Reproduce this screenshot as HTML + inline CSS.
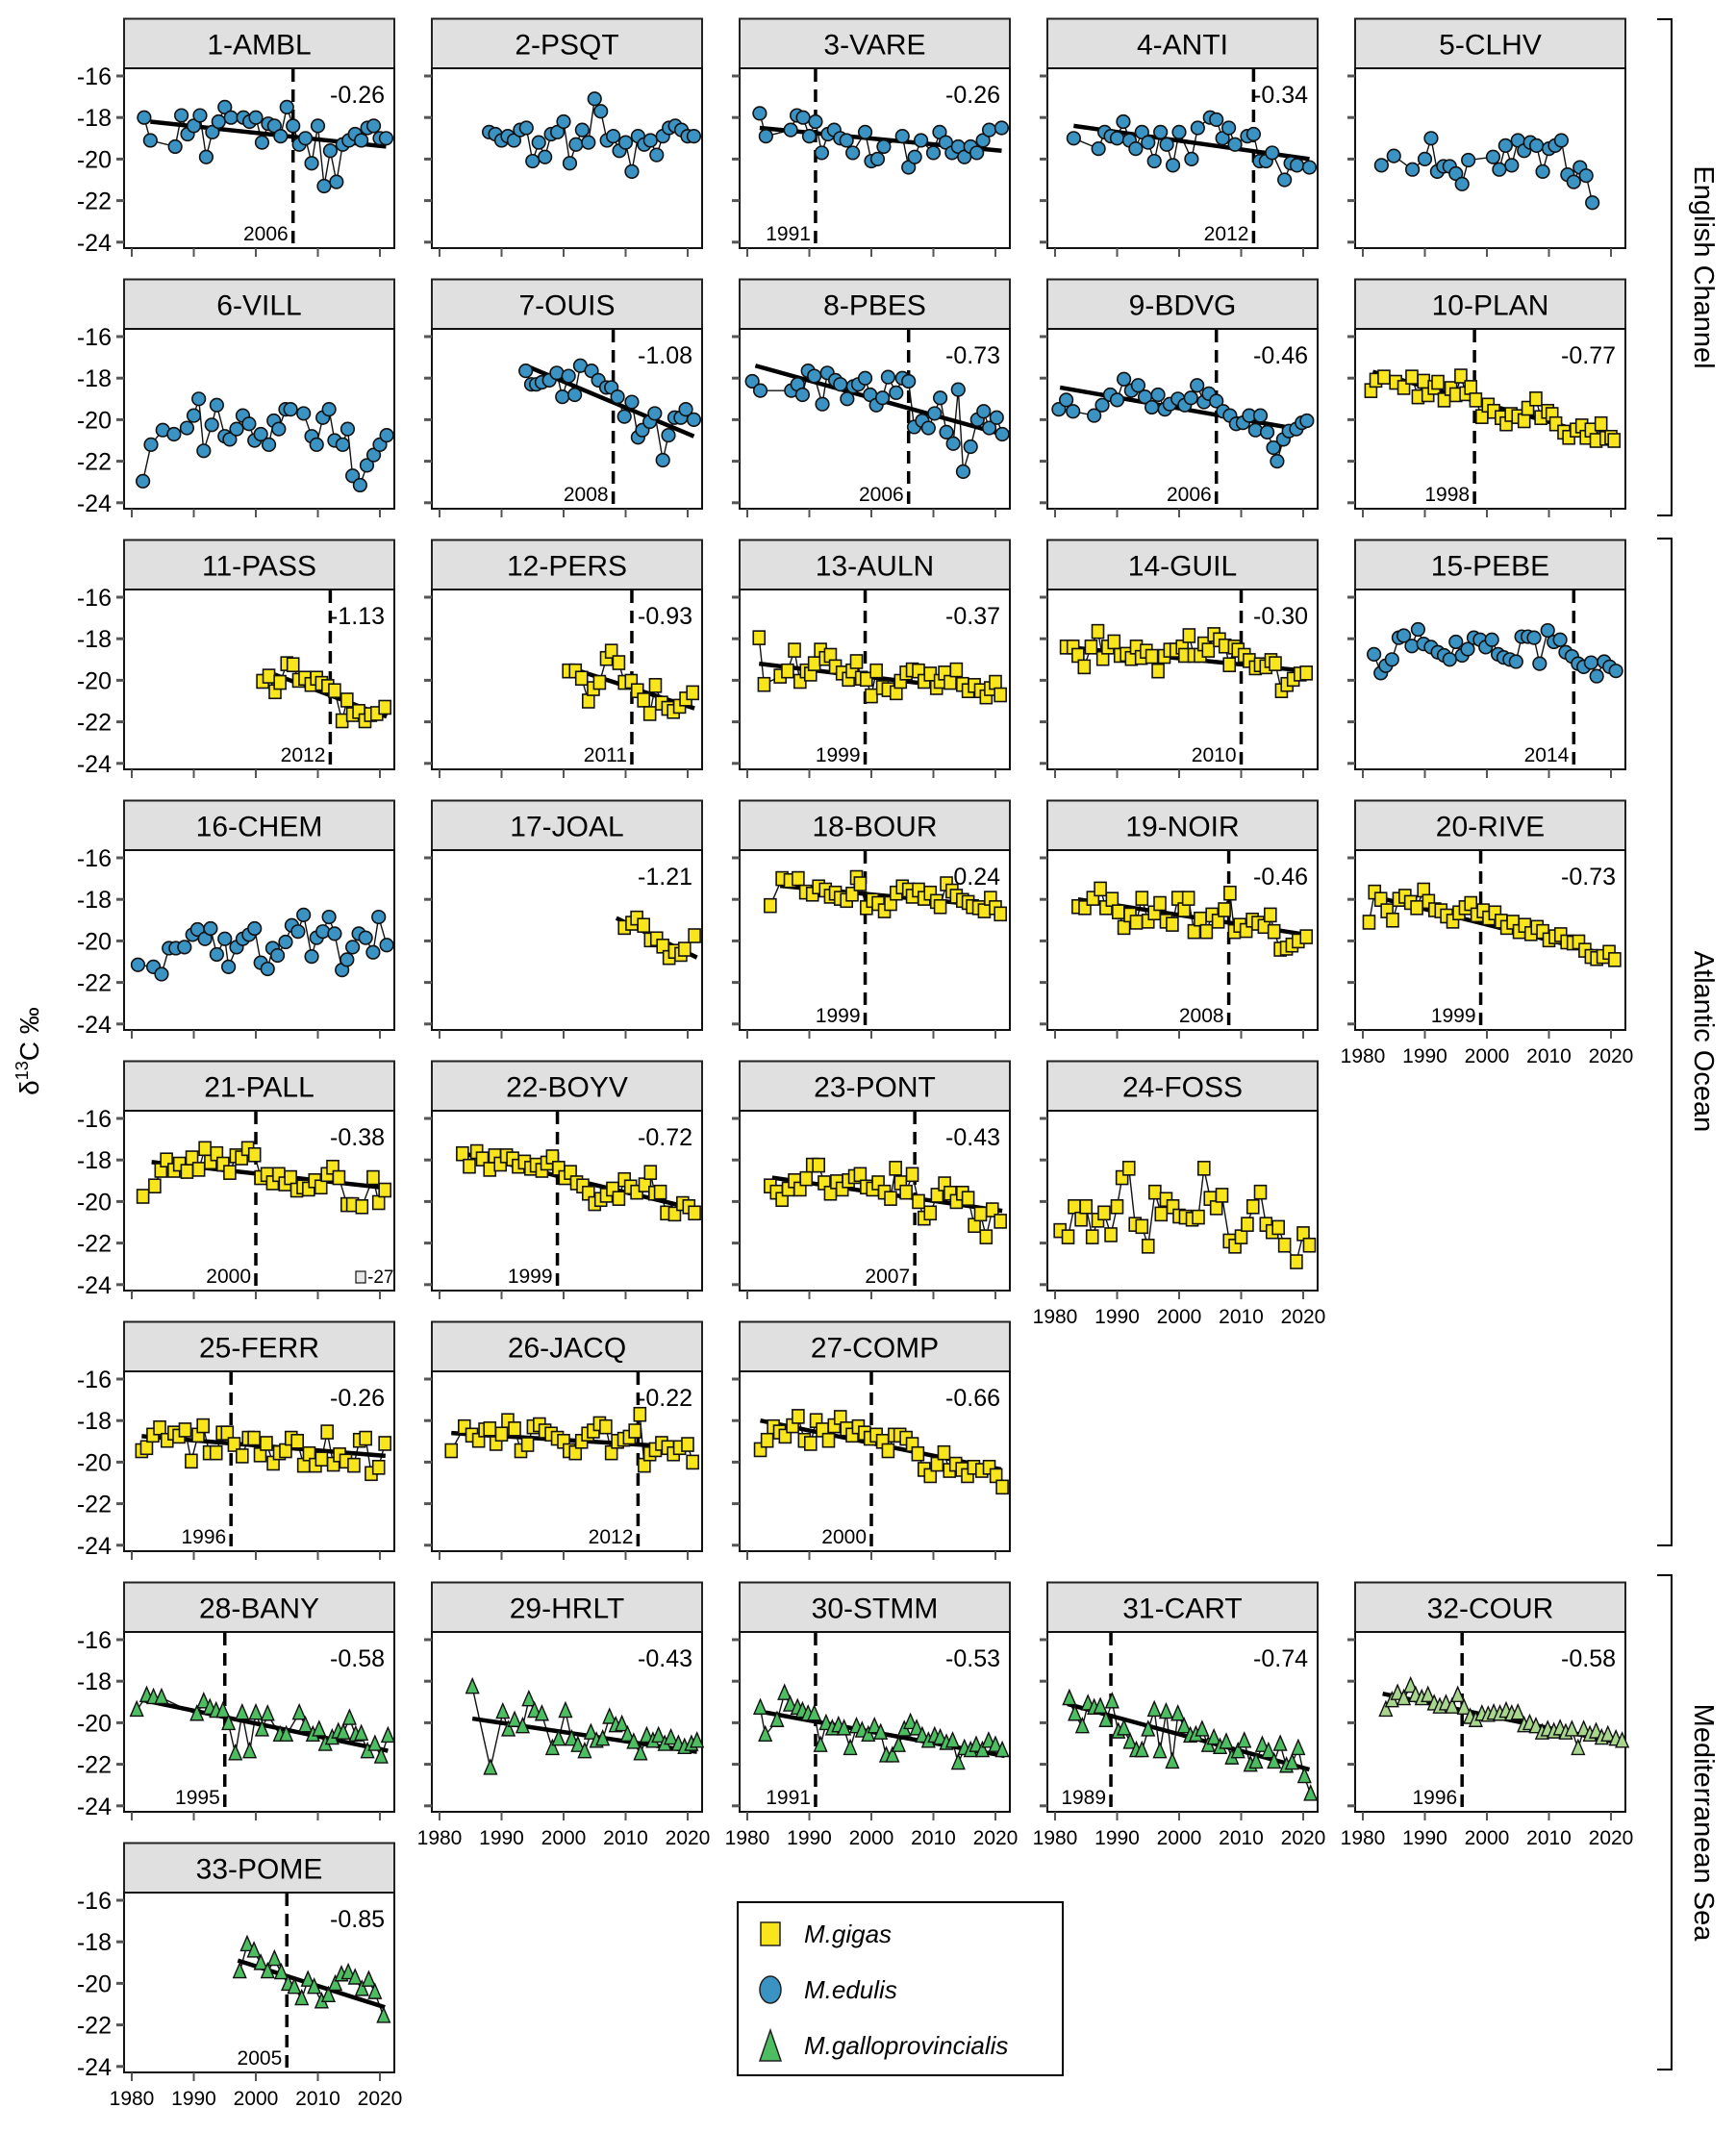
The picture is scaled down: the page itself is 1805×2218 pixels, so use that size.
<!DOCTYPE html>
<html><head><meta charset="utf-8">
<style>
html,body{margin:0;padding:0;background:#fff;}
svg{display:block;font-family:"Liberation Sans",Arial,sans-serif;}
</style></head>
<body>
<svg id="chart" width="1805" height="2218" viewBox="0 0 1805 2218" xmlns="http://www.w3.org/2000/svg">
<rect x="0" y="0" width="1805" height="2218" fill="#fff"/>
<g id="panels"></g>
<text transform="translate(40,1093) rotate(-90)" text-anchor="middle" font-size="28">δ<tspan font-size="18" dy="-11">13</tspan><tspan dy="11">C ‰</tspan></text>
<g>
<path d="M1723 20 H1738 V536 H1723" fill="none" stroke="#000" stroke-width="2"/>
<text transform="translate(1762,278) rotate(90)" text-anchor="middle" font-size="29">English Channel</text>
</g>
<g>
<path d="M1723 560 H1738 V1607 H1723" fill="none" stroke="#000" stroke-width="2"/>
<text transform="translate(1762,1083) rotate(90)" text-anchor="middle" font-size="29">Atlantic Ocean</text>
</g>
<g>
<path d="M1723 1638 H1738 V2152 H1723" fill="none" stroke="#000" stroke-width="2"/>
<text transform="translate(1762,1895) rotate(90)" text-anchor="middle" font-size="29">Mediterranean Sea</text>
</g>
<g>
<rect x="767" y="1978" width="338" height="180" fill="#fff" stroke="#000" stroke-width="2"/>
<g>
<rect x="791" y="1999" width="20" height="24" fill="#f8e51c" stroke="#222" stroke-width="1.5"/>
<text x="836" y="2020" font-size="26" font-style="italic">M.gigas</text></g>
<g>
<ellipse cx="801" cy="2069" rx="11" ry="14" fill="#3a93c3" stroke="#222" stroke-width="1.5"/>
<text x="836" y="2078" font-size="26" font-style="italic">M.edulis</text></g>
<g>
<path d="M801 2111 L812 2143 L790 2143 Z" fill="#4dbd61" stroke="#222" stroke-width="1.5"/>
<text x="836" y="2136" font-size="26" font-style="italic">M.galloprovincialis</text></g>
</g>
</svg>
<script>
const panelNames=["1-AMBL","2-PSQT","3-VARE","4-ANTI","5-CLHV","6-VILL","7-OUIS","8-PBES","9-BDVG","10-PLAN","11-PASS","12-PERS","13-AULN","14-GUIL","15-PEBE","16-CHEM","17-JOAL","18-BOUR","19-NOIR","20-RIVE","21-PALL","22-BOYV","23-PONT","24-FOSS","25-FERR","26-JACQ","27-COMP","28-BANY","29-HRLT","30-STMM","31-CART","32-COUR","33-POME"];
const panelSpecies=["e","e","e","e","e","e","e","e","e","g","g","g","g","g","e","e","g","g","g","g","g","g","g","g","g","g","g","p","p","p","p","q","p"];
const panelBreaks=[2006,null,1991,2012,null,null,2008,2006,2006,1998,2012,2011,1999,2010,2014,null,null,1999,2008,1999,2000,1999,2007,null,1996,2012,2000,1995,null,1991,1989,1996,2005];
const panelSlopes=["-0.26",null,"-0.26","-0.34",null,null,"-1.08","-0.73","-0.46","-0.77","-1.13","-0.93","-0.37","-0.30",null,null,"-1.21","-0.24","-0.46","-0.73","-0.38","-0.72","-0.43",null,"-0.26","-0.22","-0.66","-0.58","-0.43","-0.53","-0.74","-0.58","-0.85"];
const trendYears=[[1983,2021],null,[1982,2021],[1983,2021],null,null,[1993.9,2021],[1981.3,2021.1],[1980.8,2020],[1981.6,2020.5],[2001.5,2021.1],[2001.5,2021.1],[1981.9,2020.8],[1981.8,2020.5],null,null,[2008.5,2021.5],[1985.3,2020.8],[1983.7,2020.5],[1981,2020.6],[1983.2,2021.1],[1983.4,2021.1],[1984,2021.1],null,[1981.6,2020.9],[1981.9,2020],[1982.1,2020.9],[1981.6,2021.3],[1985.3,2021.5],[1981.9,2021.5],[1982,2021],[1983.2,2022],[1997.1,2020.8]];
const trendValues=[[-18.2,-19.4],null,[-18.5,-19.6],[-18.4,-20.0],null,null,[-17.4,-20.8],[-17.4,-20.7],[-18.45,-20.5],[-17.7,-21.0],[-19.55,-21.75],[-19.45,-21.35],[-19.2,-20.6],[-18.4,-19.55],null,null,[-18.9,-20.8],[-17.35,-18.35],[-18.0,-19.7],[-17.8,-20.75],[-18.1,-19.35],[-17.65,-20.35],[-18.85,-20.45],null,[-18.75,-19.7],[-18.6,-19.3],[-18.0,-20.35],[-18.9,-21.35],[-19.8,-21.4],[-19.45,-21.6],[-19.1,-22.25],[-18.6,-21.0],[-18.9,-21.15]];
const panelYears=[
[1982,1983,1987,1988,1989,1990,1991,1992,1993,1994,1995,1996,1998,1999,2000,2001,2002,2003,2004,2005,2006,2007,2008,2009,2010,2011,2012,2013,2014,2015,2016,2017,2018,2019,2020,2021],
[1988,1989,1990,1991,1992,1993,1994,1995,1996,1997,1998,1999,2000,2001,2002,2003,2004,2005,2006,2007,2008,2009,2010,2011,2012,2013,2014,2015,2016,2017,2018,2019,2020,2021],
[1982,1983,1987,1988,1989,1990,1991,1992,1993,1994,1995,1996,1997,1999,2000,2001,2002,2005,2006,2007,2008,2010,2011,2012,2013,2014,2015,2016,2017,2018,2019,2021],
[1983,1987,1988,1989,1990,1991,1992,1993,1994,1995,1996,1997,1998,1999,2000,2002,2003,2005,2006,2007,2008,2009,2011,2012,2013,2014,2015,2017,2018,2019,2021],
[1983,1985,1988,1990,1991,1992,1993,1994,1995,1996,1997,2001,2002,2003,2004,2005,2006,2007,2008,2009,2010,2011,2012,2013,2014,2015,2016,2017],
[1981.8,1983.1,1985,1986.8,1988.9,1990,1990.8,1991.6,1992.9,1993.7,1995,1995.8,1996.9,1997.9,1998.9,1999.8,2000.8,2002.1,2002.9,2003.7,2004.8,2005.6,2007.7,2009,2009.8,2010.8,2011.8,2012.7,2014,2014.8,2015.6,2016.8,2017.9,2019,2020,2021.1],
[1993.9,1994.8,1995.6,1996.5,1997.7,1998.9,1999.8,2000.8,2001.8,2002.7,2004.5,2005.6,2006.9,2007.7,2008.7,2009.8,2011,2012,2012.7,2013.9,2014.7,2016,2016.9,2017.9,2018.9,2019.7,2021],
[1980.8,1982.1,1987.1,1988.1,1988.9,1989.8,1990.8,1992.1,1992.9,1994.2,1995,1996.1,1997.1,1997.9,1999,1999.8,2000.8,2001.8,2002.7,2004,2005,2006,2006.9,2008.2,2009.2,2010.2,2011.1,2012.1,2013.2,2014,2014.8,2016,2017.1,2018.1,2019,2020.2,2021.1],
[1980.6,1981.8,1982.9,1986.3,1987.6,1988.9,1990,1991.1,1992.3,1993.4,1994.5,1995.6,1996.6,1997.7,1998.5,1999.8,2000.9,2001.9,2002.9,2004,2004.8,2006,2007.1,2008.2,2009.2,2010.3,2011.3,2012.3,2013.1,2014.2,2015.2,2015.8,2016.8,2017.7,2018.9,2019.8,2020.6],
[1981.3,1982.1,1983.4,1985.3,1986.6,1987.9,1988.9,1989.8,1990.5,1991.5,1992.1,1993.1,1994.2,1995,1995.8,1996.6,1997.4,1998.2,1999.2,2000.2,2001.1,2002.3,2003.1,2003.9,2005,2006,2006.6,2007.9,2008.7,2009.8,2010.5,2011.1,2012.4,2013.2,2014.4,2015.3,2016,2016.8,2017.6,2018.4,2019.2,2020,2020.5],
[2001.1,2002.1,2003.1,2003.9,2005,2006,2006.9,2007.9,2008.9,2009.8,2010.6,2011.6,2012.7,2013.9,2014.7,2015.6,2016.6,2017.6,2018.5,2019.5,2020.8],
[2000.8,2001.9,2002.9,2004,2004.8,2005.8,2006.9,2007.7,2008.9,2009.8,2010.9,2011.9,2012.9,2013.9,2014.8,2015.8,2016.8,2017.7,2018.7,2019.7,2020.8],
[1981.9,1982.7,1985.3,1986.5,1987.6,1988.5,1989.5,1990.2,1990.8,1991.8,1992.6,1993.4,1994.2,1995.3,1996.3,1996.9,1997.6,1998.4,1999.2,2000,2000.8,2001.8,2002.7,2004,2004.7,2005.6,2006.6,2007.6,2008.5,2009.5,2010.5,2011.1,2011.8,2012.7,2013.7,2014.7,2015.6,2016.6,2017.6,2018.5,2019.2,2020,2020.8],
[1981.8,1982.9,1983.7,1984.7,1985.8,1986.9,1987.7,1988.5,1989.5,1990.5,1991.5,1992.3,1993.1,1993.9,1994.7,1995.6,1996.6,1997.6,1998.5,1999.5,2000.5,2000.9,2001.6,2002.4,2003.4,2004,2004.7,2005.6,2006.5,2007.4,2008.1,2008.9,2009.5,2010.5,2011.3,2012.3,2013.1,2014,2014.8,2015.5,2016.5,2017.4,2018.4,2019.5,2020.5],
[1981.8,1982.9,1983.7,1984.7,1985.8,1986.6,1987.9,1988.9,1989.8,1991,1992.1,1993.1,1994,1995,1996,1996.9,1997.9,1998.9,1999.8,2000.8,2001.8,2002.7,2003.7,2004.7,2005.6,2006.6,2007.6,2008.5,2009.8,2010.8,2011.8,2012.7,2013.7,2014.7,2015.6,2016.8,2017.7,2018.9,2019.8,2020.8],
[1981,1983.5,1984.8,1986,1987.1,1988.5,1989.8,1990.6,1991.8,1992.7,1993.7,1995,1995.6,1996.9,1997.9,1998.9,1999.8,2000.8,2001.9,2002.7,2003.5,2004.8,2005.8,2006.8,2007.7,2009,2009.8,2010.8,2011.8,2012.7,2013.9,2014.7,2015.6,2016.6,2017.7,2018.9,2019.8,2021.1],
[2009.8,2011,2011.8,2012.9,2014,2015,2016,2017,2017.9,2018.9,2019.5,2021.1],
[1983.7,1985.6,1986.9,1988.2,1989.4,1990.5,1991.5,1992.6,1993.4,1994.2,1995,1996,1996.9,1997.6,1998.2,1999.2,2000.2,2001.1,2002.1,2003.1,2004,2005,2006,2006.6,2007.6,2008.5,2009.5,2010.5,2011.1,2012.1,2013,2013.7,2014.7,2015.6,2016.3,2017.3,2018.2,2019.2,2020,2020.8],
[1983.7,1984.8,1986.1,1987.3,1988.2,1989.2,1990.2,1991.1,1992.1,1993.1,1994,1995,1996,1996.9,1997.9,1998.9,1999.8,2000.8,2001.5,2002.4,2003.4,2004.4,2005.3,2006.3,2007.3,2008.2,2008.9,2009.8,2010.8,2011.8,2012.7,2013.7,2014.7,2015.3,2016.3,2017.3,2018.2,2019.2,2020.5],
[1981,1981.9,1982.9,1983.9,1984.8,1985.8,1986.8,1987.7,1988.7,1989.8,1990.6,1991.6,1992.6,1993.5,1994.5,1995.5,1996.5,1997.4,1998.4,1999.4,2000.3,2001.3,2002.3,2003.2,2004.2,2005.2,2006.1,2007.1,2008.1,2009,2010,2011,2011.9,2012.9,2013.9,2014.8,2015.8,2016.8,2017.7,2018.7,2019.7,2020.6],
[1981.8,1983.7,1984.7,1985.6,1986.8,1987.7,1988.9,1989.7,1990.8,1991.8,1992.7,1993.7,1994.7,1995.8,1996.8,1997.7,1998.7,1999.8,2000.8,2001.8,2002.7,2003.7,2004.7,2005.6,2006.6,2007.6,2008.5,2009.5,2010.5,2011.5,2012.4,2013.4,2014.7,2015.6,2017.1,2018.9,2019.8,2020.8],
[1983.7,1984.8,1986,1986.9,1988.1,1988.9,1989.8,1990.8,1991.8,1992.7,1993.7,1994.7,1995.6,1996.5,1997.3,1998.2,1999.2,2000.2,2001.1,2002.1,2003.1,2004,2005,2006,2006.9,2007.9,2008.9,2009.8,2010.8,2011.8,2013.1,2014,2014.7,2015.6,2016.6,2017.9,2019.2,2020.2,2021.1],
[1983.7,1984.7,1985.6,1986.6,1987.6,1988.5,1989.5,1990.5,1991.5,1992.4,1993.4,1994.4,1995.3,1996.3,1997.3,1998.2,1999.2,2000.2,2001.1,2002.1,2003.1,2003.9,2004.7,2005.6,2006.6,2007.6,2008.5,2009.5,2010.6,2011.8,2012.7,2013.7,2014.7,2015.6,2016.6,2017.6,2018.5,2019.5,2020.8],
[1980.8,1982.1,1983.1,1984.2,1985,1986,1986.9,1987.9,1989,1990,1990.8,1991.9,1992.9,1994,1995,1996.1,1997.1,1997.9,1999,2000,2001,2002.1,2003.1,2004,2005,2006,2006.9,2008.1,2009,2010,2011,2011.9,2013.1,2014,2015,2016,2017,2018.9,2020,2021],
[1981.6,1982.4,1983.4,1984.5,1985.7,1986.8,1987.6,1988.6,1989.6,1990.7,1991.5,1992.5,1993.6,1994.6,1995.4,1996.5,1997.8,1998.8,1999.7,2000.7,2001.7,2002.8,2003.8,2004.8,2005.7,2006.7,2007.7,2008.6,2009.6,2010.6,2011.5,2012.5,2013.5,2014.5,2015.8,2016.7,2017.7,2018.6,2019.8,2020.8],
[1981.9,1984,1985.2,1986.3,1987.3,1988.1,1989.1,1990,1991,1992.1,1993.1,1994.2,1995.1,1996.1,1997,1998,1999,2000,2000.9,2001.9,2002.9,2003.9,2004.8,2005.8,2006.8,2007.7,2008.7,2009.7,2010.6,2011.5,2012.3,2013,2013.9,2014.8,2015.8,2016.8,2017.7,2018.7,2020,2020.8],
[1982.1,1983.2,1984.2,1985.2,1986.1,1987.3,1988.2,1989.2,1990.2,1991.1,1992.1,1993.1,1994,1995,1996,1996.9,1997.9,1998.9,1999.8,2000.8,2001.8,2002.7,2003.7,2004.6,2005.6,2006.6,2007.5,2008.5,2009.5,2010.6,2011.7,2012.6,2013.6,2014.6,2015.5,2016.5,2017.8,2019,2020.1,2021.1],
[1980.8,1982.4,1983.5,1984.8,1990.5,1991.6,1992.6,1993.6,1994.7,1995.6,1996.7,1997.8,1999,2000,2001,2001.9,2003.9,2004.9,2007,2008,2009.2,2010.2,2011.2,2012.3,2013.3,2014.1,2015.1,2016.1,2017,2018,2019.2,2020.2,2021.3],
[1985.3,1988.2,1990.2,1991.1,1992.1,1993.4,1994.4,1995.3,1996.5,1998.2,1999.2,2000.3,2001.3,2002.3,2003.4,2004.4,2005.3,2006.3,2007.4,2008.4,2009.4,2010.3,2011.3,2012.4,2013.4,2014.4,2015.3,2016.3,2017.3,2018.5,2019.5,2020.6,2021.5],
[1982.1,1982.9,1984.8,1986,1986.9,1988.1,1988.9,1989.8,1990.8,1991.8,1992.7,1993.7,1994.7,1995.6,1996.6,1997.6,1998.5,1999.5,2000.5,2001.5,2002.4,2003.4,2004.4,2005.3,2006.3,2007.3,2008.2,2009.2,2010.2,2011.1,2012.1,2013.1,2014,2015,2016,2016.9,2017.9,2018.9,2020,2021.1],
[1982.3,1983.2,1984.4,1985.3,1986.3,1987.3,1988.2,1989.2,1990.2,1991.1,1992.1,1993.1,1994,1995,1996,1996.9,1997.9,1998.9,1999.8,2000.8,2001.8,2002.7,2003.7,2004.7,2005.6,2006.6,2007.6,2008.5,2009.5,2010.5,2011.5,2012.4,2013.4,2014.4,2015.3,2016.3,2017.3,2018.2,2019.2,2020.2,2021.2],
[1983.7,1984.7,1985.6,1986.6,1987.7,1988.5,1989.5,1990.5,1991.5,1992.4,1993.4,1994.4,1995.3,1996.3,1997.3,1998.2,1999.2,2000.2,2001.1,2002.1,2003.1,2004,2005,2006,2006.9,2007.9,2008.9,2009.8,2010.8,2011.8,2012.7,2013.7,2014.7,2015.6,2016.6,2017.6,2018.5,2019.5,2020.8,2021.8],
[1997.4,1998.6,1999.7,2000.8,2001.9,2003,2004.1,2005.2,2006.2,2007.4,2008.4,2009.4,2010.6,2011.7,2012.8,2013.8,2014.9,2016,2017.1,2018.2,2019.2,2020.6]
];
const panelValues=[
[-18.0,-19.1,-19.4,-17.9,-18.8,-18.4,-17.9,-19.9,-18.7,-18.2,-17.5,-18.0,-18.0,-18.2,-18.0,-19.2,-18.3,-18.4,-18.9,-17.5,-18.4,-19.3,-19.0,-20.2,-18.4,-21.3,-19.6,-21.1,-19.3,-19.1,-18.8,-19.1,-18.5,-18.4,-19.0,-19.0],
[-18.7,-18.8,-19.1,-18.9,-19.1,-18.6,-18.5,-20.1,-19.2,-19.9,-18.8,-18.7,-18.2,-20.2,-19.3,-18.6,-19.2,-17.1,-17.7,-19.1,-18.9,-19.6,-19.2,-20.6,-18.9,-19.3,-19.1,-19.8,-18.9,-18.5,-18.4,-18.6,-18.9,-18.9],
[-17.8,-18.9,-18.6,-17.9,-18.0,-18.9,-18.2,-19.7,-18.8,-18.6,-19.0,-19.1,-19.7,-18.7,-20.1,-20.0,-19.4,-18.9,-20.4,-19.9,-19.1,-19.7,-18.7,-19.2,-19.7,-19.4,-19.9,-19.4,-19.7,-19.1,-18.6,-18.5],
[-19.0,-19.5,-18.7,-18.9,-19.0,-18.2,-19.1,-19.5,-18.7,-19.2,-20.1,-18.7,-19.3,-20.3,-18.7,-20.0,-18.5,-18.0,-18.1,-19.0,-18.5,-19.3,-18.9,-18.8,-20.1,-20.1,-19.7,-21.0,-20.2,-20.3,-20.4],
[-20.3,-19.85,-20.5,-20.0,-19.0,-20.6,-20.35,-20.35,-20.7,-21.2,-20.05,-19.9,-20.5,-19.35,-20.3,-19.1,-19.6,-19.2,-19.35,-20.6,-19.5,-19.35,-19.1,-20.75,-21.1,-20.4,-20.8,-22.1],
[-22.96,-21.2,-20.5,-20.7,-20.4,-19.8,-19.0,-21.5,-20.25,-19.3,-20.8,-20.95,-20.45,-19.8,-20.2,-21.0,-20.7,-21.2,-20.05,-20.45,-19.5,-19.5,-19.7,-20.8,-21.2,-19.9,-19.5,-21.0,-21.2,-20.45,-22.7,-23.15,-22.2,-21.7,-21.2,-20.75],
[-17.65,-18.3,-18.3,-18.2,-18.1,-17.75,-18.9,-17.9,-18.8,-17.4,-17.65,-18.1,-18.45,-18.45,-18.9,-19.85,-19.15,-20.85,-20.5,-20.1,-19.7,-21.95,-20.75,-19.9,-19.9,-19.5,-20.0],
[-18.15,-18.6,-18.6,-18.3,-18.8,-17.65,-17.9,-19.25,-17.75,-18.1,-18.3,-19.0,-18.4,-18.3,-18.0,-18.8,-19.3,-18.95,-17.95,-18.7,-18.0,-18.15,-20.35,-20.05,-20.4,-19.7,-18.95,-20.6,-21.15,-18.55,-22.5,-21.3,-20.0,-19.6,-20.4,-19.9,-20.7],
[-19.5,-19.05,-19.6,-19.8,-19.3,-18.8,-19.05,-18.05,-18.6,-18.35,-18.9,-19.4,-18.8,-19.5,-19.25,-19.0,-19.3,-18.95,-18.35,-19.15,-18.75,-19.1,-19.6,-19.8,-20.2,-20.15,-19.8,-20.5,-19.8,-20.6,-21.35,-22.0,-20.95,-20.55,-20.45,-20.15,-20.05],
[-18.6,-18.1,-17.95,-18.2,-18.45,-17.95,-18.9,-18.15,-18.8,-18.45,-18.2,-19.05,-18.5,-18.8,-17.9,-18.75,-18.45,-19.05,-19.85,-19.3,-19.6,-19.9,-20.2,-19.75,-19.85,-20.05,-19.45,-19.0,-19.9,-19.6,-19.75,-20.2,-20.6,-20.85,-20.5,-20.3,-20.85,-20.5,-21.0,-20.2,-20.9,-20.85,-21.0],
[-20.05,-19.8,-20.55,-20.1,-19.2,-19.25,-20.0,-19.9,-20.2,-19.9,-20.15,-20.3,-20.5,-21.95,-20.95,-21.65,-21.5,-21.95,-21.65,-21.6,-21.3],
[-19.55,-19.55,-19.9,-21.0,-20.4,-20.1,-18.95,-18.6,-19.15,-20.1,-20.05,-20.5,-20.95,-21.6,-20.25,-21.1,-21.35,-21.5,-21.25,-20.9,-20.6],
[-17.95,-20.2,-19.8,-19.55,-18.55,-20.05,-19.55,-19.7,-19.2,-18.55,-18.95,-18.8,-19.35,-19.65,-19.95,-19.55,-19.1,-19.9,-19.95,-20.75,-19.55,-20.35,-20.45,-20.6,-20.05,-19.65,-19.5,-19.55,-20.05,-19.7,-20.35,-20.05,-19.65,-20.1,-19.5,-20.2,-20.5,-20.25,-20.5,-20.8,-20.4,-20.1,-20.7],
[-18.4,-18.4,-18.8,-19.35,-18.4,-17.65,-18.95,-18.4,-18.15,-18.8,-18.75,-18.95,-18.4,-18.9,-18.6,-18.85,-19.55,-18.85,-18.55,-18.55,-18.4,-18.8,-17.85,-18.8,-18.8,-18.25,-18.55,-17.8,-18.05,-18.35,-19.25,-18.4,-18.55,-18.8,-19.05,-19.4,-19.25,-19.35,-19.05,-19.2,-20.5,-20.2,-19.95,-19.7,-19.65],
[-18.75,-19.65,-19.3,-19.0,-17.95,-17.85,-18.35,-17.55,-18.25,-18.4,-18.65,-18.8,-19.0,-18.15,-18.8,-18.5,-17.95,-18.05,-18.4,-18.05,-18.75,-18.9,-19.0,-19.1,-17.9,-17.9,-17.95,-19.2,-17.6,-18.15,-18.05,-18.65,-18.85,-19.2,-19.35,-19.15,-19.8,-19.1,-19.35,-19.55],
[-21.15,-21.25,-21.6,-20.35,-20.35,-20.3,-19.7,-19.45,-19.9,-19.4,-20.65,-19.9,-21.25,-20.3,-19.9,-19.7,-19.4,-21.05,-21.35,-20.35,-20.7,-20.05,-19.25,-19.55,-18.75,-20.75,-19.85,-19.55,-18.85,-19.65,-21.4,-20.9,-20.3,-19.65,-19.85,-20.55,-18.85,-20.2],
[-19.35,-19.15,-18.9,-19.25,-19.95,-19.9,-20.25,-20.8,-20.5,-20.65,-20.4,-19.75],
[-18.3,-17.0,-17.1,-17.0,-17.65,-17.75,-17.4,-17.55,-17.85,-17.7,-17.95,-18.05,-17.75,-16.95,-17.25,-18.4,-18.05,-18.2,-18.55,-18.2,-17.7,-17.4,-17.55,-17.85,-17.55,-17.95,-17.7,-18.1,-18.35,-17.25,-17.6,-17.85,-18.05,-18.15,-18.35,-18.4,-18.55,-17.95,-18.4,-18.7],
[-18.35,-18.4,-17.95,-17.5,-18.4,-18.0,-18.6,-19.35,-18.75,-19.1,-17.95,-19.05,-18.65,-18.2,-19.05,-19.2,-17.95,-18.5,-17.95,-19.55,-18.95,-19.55,-18.75,-19.05,-18.5,-17.7,-19.55,-19.25,-19.5,-19.0,-19.15,-19.3,-18.75,-19.55,-20.4,-20.35,-20.2,-20.0,-19.8],
[-19.1,-17.65,-18.0,-18.55,-19.0,-18.0,-17.85,-18.15,-18.4,-17.55,-18.1,-18.5,-18.55,-18.8,-19.05,-18.65,-18.4,-18.2,-18.75,-18.55,-18.9,-18.65,-19.05,-19.35,-19.1,-19.55,-19.25,-19.65,-19.35,-19.55,-19.95,-19.8,-19.7,-20.05,-20.1,-20.05,-20.45,-20.75,-20.85,-20.75,-20.55,-20.9],
[-19.75,-19.25,-18.5,-18.0,-18.5,-18.2,-18.55,-17.9,-18.45,-17.45,-18.1,-17.7,-18.2,-18.6,-17.8,-17.9,-17.45,-17.75,-18.85,-18.7,-19.1,-18.7,-19.15,-18.85,-19.45,-19.3,-19.4,-19.0,-19.3,-18.7,-18.35,-18.85,-20.15,-20.15,-20.25,-18.85,-20.05,-19.45],
[-17.7,-18.3,-17.6,-17.95,-18.45,-17.8,-18.2,-17.8,-17.95,-18.3,-18.1,-18.4,-18.25,-18.5,-18.15,-17.85,-18.4,-18.85,-18.6,-19.1,-19.25,-19.6,-20.1,-19.9,-19.7,-19.4,-19.85,-18.95,-19.3,-19.55,-19.2,-18.6,-19.6,-19.55,-20.55,-20.6,-20.1,-20.25,-20.55],
[-19.25,-19.55,-19.9,-19.4,-19.0,-19.4,-18.9,-18.25,-18.25,-19.1,-19.6,-19.05,-19.4,-19.0,-18.8,-18.7,-19.3,-19.4,-19.1,-19.55,-19.85,-18.4,-19.1,-19.55,-18.7,-20.0,-20.8,-20.55,-19.7,-19.15,-19.6,-20.0,-19.6,-19.85,-21.15,-20.6,-21.7,-20.4,-20.95],
[-21.4,-21.7,-20.25,-20.85,-20.25,-21.7,-20.9,-20.55,-21.6,-20.25,-18.85,-18.4,-21.1,-21.2,-22.15,-19.55,-20.6,-19.9,-20.25,-20.7,-20.75,-20.85,-20.75,-18.4,-19.85,-20.3,-19.7,-21.9,-22.15,-21.7,-21.1,-20.25,-19.55,-21.1,-21.45,-21.25,-22.1,-22.9,-21.55,-22.1],
[-19.45,-19.3,-18.7,-18.35,-18.95,-18.6,-18.75,-18.45,-19.95,-18.7,-18.25,-19.55,-19.55,-18.6,-18.6,-19.15,-19.7,-18.85,-18.85,-19.65,-19.1,-20.05,-19.55,-19.45,-18.85,-19.0,-20.15,-19.6,-20.15,-19.85,-18.55,-20.1,-19.65,-19.95,-20.15,-18.95,-18.85,-20.55,-20.25,-19.1],
[-19.45,-18.3,-18.7,-18.95,-18.45,-18.4,-19.1,-18.65,-18.0,-18.4,-19.45,-19.15,-18.3,-18.2,-18.5,-18.65,-18.85,-19.0,-19.45,-19.55,-19.0,-18.65,-18.5,-18.15,-18.3,-19.55,-19.0,-18.9,-18.8,-18.5,-17.7,-20.15,-19.6,-19.4,-19.1,-19.3,-19.6,-19.3,-19.15,-20.0],
[-19.4,-18.95,-18.3,-18.55,-18.75,-18.25,-17.8,-18.95,-19.1,-18.0,-18.45,-18.95,-18.25,-17.85,-18.4,-18.7,-18.3,-18.6,-18.85,-18.7,-19.0,-19.45,-18.7,-18.7,-18.85,-19.15,-19.6,-20.35,-20.65,-20.1,-19.55,-20.4,-20.1,-20.35,-20.65,-20.25,-20.4,-20.25,-20.65,-21.2],
[-19.4,-18.7,-18.8,-18.8,-19.6,-19.0,-19.3,-19.45,-19.45,-20.05,-21.5,-19.55,-21.4,-19.55,-20.35,-19.6,-20.6,-20.6,-19.55,-20.15,-20.6,-20.35,-21.05,-20.75,-20.45,-20.5,-19.8,-20.6,-20.55,-21.4,-21.05,-21.65,-20.65],
[-18.3,-22.2,-19.5,-20.35,-19.9,-20.2,-18.9,-19.45,-19.6,-21.25,-20.8,-19.45,-20.8,-21.1,-21.4,-20.5,-20.9,-20.8,-19.75,-20.15,-20.1,-20.6,-20.95,-21.5,-20.65,-20.9,-20.65,-21.05,-20.75,-21.05,-21.2,-21.05,-20.9],
[-19.3,-20.6,-19.9,-18.6,-19.15,-19.3,-19.45,-19.6,-19.6,-21.1,-20.05,-20.3,-20.15,-20.3,-21.25,-20.2,-20.4,-20.6,-20.2,-20.5,-21.6,-21.6,-21.1,-20.35,-20.0,-20.3,-20.65,-20.9,-20.65,-20.75,-21.0,-20.9,-21.95,-21.25,-21.35,-21.1,-21.35,-20.9,-21.1,-21.35],
[-18.85,-19.6,-20.2,-19.1,-19.3,-19.25,-19.9,-19.0,-20.45,-20.3,-20.95,-21.35,-21.35,-20.35,-19.4,-21.4,-19.5,-21.9,-19.6,-20.2,-20.65,-20.6,-20.35,-21.1,-20.75,-21.2,-20.95,-21.7,-21.4,-20.9,-22.05,-21.9,-21.1,-21.4,-21.9,-21.05,-22.1,-21.95,-21.25,-22.6,-23.45],
[-19.4,-18.95,-18.6,-18.85,-18.25,-18.7,-18.85,-18.7,-19.1,-19.25,-19.1,-19.25,-18.7,-19.3,-19.75,-19.9,-19.6,-19.65,-19.55,-19.6,-19.45,-19.6,-19.55,-20.15,-20.05,-20.2,-20.5,-20.35,-20.45,-20.3,-20.5,-20.35,-21.25,-20.35,-20.6,-20.45,-20.75,-20.6,-20.8,-20.9],
[-19.45,-18.15,-18.45,-19.05,-19.45,-18.85,-19.5,-20.05,-20.2,-20.75,-19.85,-20.2,-20.9,-20.6,-20.05,-19.6,-19.5,-19.75,-20.3,-19.85,-20.45,-21.6]
];
const yTicks=[-16,-18,-20,-22,-24];
const xTicks=[1980,1990,2000,2010,2020];
const panelCells=[[0,0],[0,1],[0,2],[0,3],[0,4],[1,0],[1,1],[1,2],[1,3],[1,4],[2,0],[2,1],[2,2],[2,3],[2,4],[3,0],[3,1],[3,2],[3,3],[3,4],[4,0],[4,1],[4,2],[4,3],[5,0],[5,1],[5,2],[6,0],[6,1],[6,2],[6,3],[6,4],[7,0]];
const xLabelPanels=[19,23,28,29,30,31,32];

const NS="http://www.w3.org/2000/svg";
const root=document.getElementById('panels');
const COLORS={e:"#3a93c3",g:"#f8e51c",p:"#4dbd61",q:"#a9d68f"};
const PW=281, STRIP=51.5, PH=187;
function mk(tag,attrs,parent){const el=document.createElementNS(NS,tag);for(const k in attrs)el.setAttribute(k,attrs[k]);(parent||root).appendChild(el);return el;}

panelNames.forEach((name,i)=>{
  const r=panelCells[i][0], c=panelCells[i][1];
  const L=129+320*c, T=19.5+271*r, PT=T+STRIP, PB=PT+PH;
  const xs=yr=>L+8+(yr-1980)*6.45;
  const ys=v=>PT+8+(-16-v)*21.6;
  const g=mk('g',{});
  
  
  const strip=mk('rect',{x:L,y:T,width:PW,height:STRIP,fill:'#e0e0e0',stroke:'#222','stroke-width':2},g);
  
  
  const tt=mk('text',{x:L+PW/2,y:T+37,'text-anchor':'middle','font-size':30},g);
  tt.textContent=name;
  
  
  const box=mk('rect',{x:L,y:PT,width:PW,height:PH,fill:'#fff',stroke:'#111','stroke-width':2},g);
  
  
  yTicks.forEach(t=>{
    const tk=mk('line',{x1:L-8,x2:L,y1:ys(t),y2:ys(t),stroke:'#555','stroke-width':3},g);
    
    
    if(c===0){const tl=mk('text',{x:L-13,y:ys(t)+9,'text-anchor':'end','font-size':25},g);tl.textContent=String(t);
      
      }
  });
  xTicks.forEach(t=>{
    const tk=mk('line',{x1:xs(t),x2:xs(t),y1:PB,y2:PB+9,stroke:'#555','stroke-width':2},g);
    
    
    if(xLabelPanels.includes(i)){const tl=mk('text',{x:xs(t),y:PB+34,'text-anchor':'middle','font-size':21},g);tl.textContent=String(t);
      
      }
  });
  if(panelBreaks[i]!==null){
    const bx=xs(panelBreaks[i]);
    const bl=mk('line',{x1:bx,x2:bx,y1:PT+1,y2:PB-1,stroke:'#000','stroke-width':3.5,'stroke-dasharray':'13,8'},g);
    
    
    const bt=mk('text',{x:bx-5,y:PB-8,'text-anchor':'end','font-size':21},g);bt.textContent=String(panelBreaks[i]);
    
    
  }
  if(panelSlopes[i]!==null){
    const st=mk('text',{x:L+PW-10,y:PT+36,'text-anchor':'end','font-size':25},g);st.textContent=panelSlopes[i];
    
    
  }
  const yrs=panelYears[i], vals=panelValues[i];
  const pts=yrs.map((y,k)=>xs(y).toFixed(1)+','+ys(vals[k]).toFixed(1)).join(' ');
  const pl=mk('polyline',{points:pts,fill:'none',stroke:'#111','stroke-width':1.4},g);
  
  
  if(trendYears[i]){
    const ty=trendYears[i], tv=trendValues[i];
    const tl=mk('line',{x1:xs(ty[0]),y1:ys(tv[0]),x2:xs(ty[1]),y2:ys(tv[1]),stroke:'#000','stroke-width':4.5},g);
    
    
  }
  const sp=panelSpecies[i], col=COLORS[sp];
  yrs.forEach((y,k)=>{
    const cx=xs(y), cy=ys(vals[k]); let m;
    if(sp==='e') m=mk('circle',{cx:cx,cy:cy,r:6.8,fill:col,stroke:'#111','stroke-width':1.6},g);
    else if(sp==='g') m=mk('rect',{x:cx-6,y:cy-7,width:12,height:14,fill:col,stroke:'#111','stroke-width':1.6},g);
    else m=mk('path',{d:`M${cx} ${cy-9} L${cx+6.5} ${cy+6} L${cx-6.5} ${cy+6} Z`,fill:col,stroke:'#111','stroke-width':1.4},g);
    
    
  });
  if(i===20){
    const sq=mk('rect',{x:L+PW-40,y:PB-20,width:10,height:12,fill:'#e8e8e8',stroke:'#111','stroke-width':1.2},g);
    
    
    const ot=mk('text',{x:L+PW-28,y:PB-8,'font-size':19},g);ot.textContent='-27';
    
    
  }
});
</script>
</body></html>
